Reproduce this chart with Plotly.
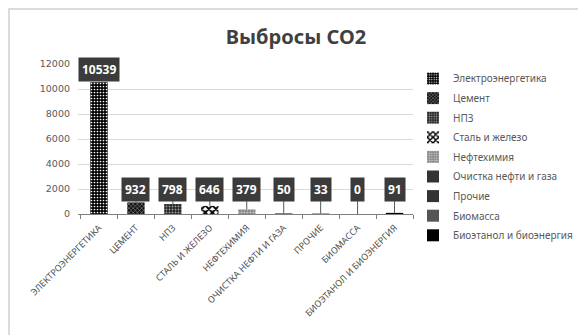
import plotly.graph_objects as go

categories = ["ЭЛЕКТРОЭНЕРГЕТИКА", "ЦЕМЕНТ", "НПЗ", "СТАЛЬ И ЖЕЛЕЗО", "НЕФТЕХИМИЯ",
              "ОЧИСТКА НЕФТИ И ГАЗА", "ПРОЧИЕ", "БИОМАССА", "БИОЭТАНОЛ И БИОЭНЕРГИЯ"]
series_names = ["Электроэнергетика", "Цемент", "НПЗ", "Сталь и железо", "Нефтехимия",
                "Очистка нефти и газа", "Прочие", "Биомасса", "Биоэтанол и биоэнергия"]
values = [10539, 932, 798, 646, 379, 50, 33, 0, 91]
y_ticks = [0, 2000, 4000, 6000, 8000, 10000, 12000]
y_tick_labels = ["0", "2000", "4000", "6000", "8000", "10000", "12000"]
title_text = "Выбросы CO2"

# styles per series (pattern shape, bg, fg, size, solidity)
styles = [
    (".", "#000000", "#ffffff", 3, 0.25),
    ("x", "#111111", "#aaaaaa", 3, 0.3),
    (".", "#222222", "#999999", 3, 0.35),
    ("x", "#ffffff", "#000000", 5, 0.6),
    ("+", "#888888", "#cccccc", 3, 0.3),
    ("+", "#333333", "#333333", 4, 0.3),
    ("x", "#333333", "#333333", 4, 0.3),
    (".", "#555555", "#555555", 4, 0.3),
    ("", "#000000", "#000000", 4, 0.3),
]

FONT = "Noto Sans"
fig = go.Figure()
for i, (name, cat, val) in enumerate(zip(series_names, categories, values)):
    shp, bg, fg, sz, sol = styles[i]
    fig.add_trace(go.Bar(
        x=[cat], y=[val], name=name, width=0.47, legendgroup=name,
        marker=dict(color=bg, line=dict(width=0),
                    pattern=dict(shape=shp, fgcolor=fg, bgcolor=bg, size=sz,
                                 solidity=sol, fillmode="replace")),
    ))

annotations = []
for cat, val in zip(categories, values):
    label_y = val + 1000 if val > 5000 else 2000
    annotations.append(dict(
        x=cat, y=val, xref="x", yref="y", ax=cat, ay=label_y, axref="x", ayref="y",
        text="<b>%d</b>" % val, showarrow=True, arrowhead=0, arrowwidth=1,
        arrowcolor="#595959", bgcolor="#3b3b3b", borderpad=3,
        font=dict(family="Noto Sans", size=12, color="#ffffff"), standoff=0,
    ))

fig.update_layout(
    width=578, height=335,
    margin=dict(l=78, r=165, t=64, b=121, autoexpand=False),
    paper_bgcolor="#ffffff", plot_bgcolor="#ffffff",
    barmode="overlay", hovermode=False,
    title=dict(text="<b>%s</b>" % title_text, x=296 / 578, xref="container", xanchor="center",
               y=1 - 37 / 335, yref="container", yanchor="middle",
               font=dict(family="Noto Sans", size=20, color="#404040")),
    showlegend=True,
    legend=dict(x=(413 - 78) / 335, xanchor="left", y=(214 - 64) / 150, yanchor="top",
                font=dict(family=FONT, size=10, color="#595959"), bgcolor="rgba(0,0,0,0)",
                itemwidth=30, tracegroupgap=0.6, maxheight=300),
    annotations=annotations,
    xaxis=dict(type="category", categoryorder="array", categoryarray=categories,
               automargin=False, ticklabelstandoff=4,
               tickangle=-45, tickfont=dict(family=FONT, size=9, color="#505050"),
               showline=True, linecolor="#7f7f7f", linewidth=1,
               ticks="outside", tickson="boundaries", ticklen=4, tickcolor="#7f7f7f",
               showgrid=False),
    yaxis=dict(range=[0, 12000], tickvals=y_ticks, ticktext=y_tick_labels, automargin=False,
               showgrid=True, gridcolor="#d9d9d9", ticklabelstandoff=7,
               gridwidth=1, zeroline=False, showline=False,
               tickfont=dict(family="DejaVu Sans", size=9.5, color="#595959")),
    shapes=[dict(type="rect", xref="paper", yref="paper",
                 x0=(9 - 78) / 335, x1=(700 - 78) / 335,
                 y0=(214 - 500) / 150, y1=(214 - 9) / 150,
                 line=dict(color="#d0d0d0", width=1.5), fillcolor="rgba(0,0,0,0)", layer="below")],
)

fig.write_html("out.html", config={"displayModeBar": False, "staticPlot": True},
               post_script="document.body.style.margin='0';")
